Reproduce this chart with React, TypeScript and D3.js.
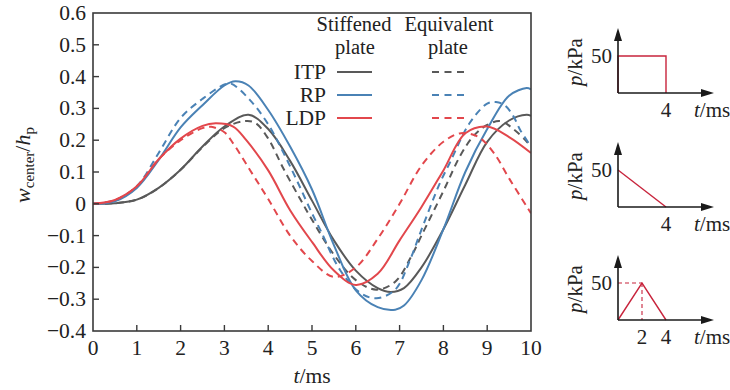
import * as d3 from "d3";

// main chart: centre deflection w_center/h_p against time t (ms)
const tTicks = [0, 1, 2, 3, 4, 5, 6, 7, 8, 9, 10];
const wTicks = [-0.4, -0.3, -0.2, -0.1, 0, 0.1, 0.2, 0.3, 0.4, 0.5, 0.6];

const itpStiffened = [
  [0, 0], [0.5, 0.002], [1, 0.013], [1.5, 0.05], [2, 0.107], [2.5, 0.18], [3, 0.243],
  [3.55, 0.28], [4, 0.235], [4.5, 0.135], [5, 0.01], [5.5, -0.115], [6, -0.21],
  [6.5, -0.265], [6.8, -0.277], [7.1, -0.265], [7.5, -0.2], [8, -0.08], [8.5, 0.06],
  [9, 0.195], [9.5, 0.262], [9.9, 0.28], [10, 0.277],
];
const itpEquivalent = [
  [0, 0], [0.5, 0.002], [1, 0.013], [1.5, 0.05], [2, 0.107], [2.5, 0.178], [3, 0.238],
  [3.45, 0.26], [3.7, 0.255], [4, 0.205], [4.35, 0.11], [4.73, 0.015], [5, -0.05],
  [5.5, -0.16], [6, -0.24], [6.47, -0.27], [6.9, -0.245], [7.25, -0.17], [7.5, -0.1],
  [8, 0.04], [8.4, 0.155], [8.7, 0.215], [9, 0.248], [9.3, 0.26], [9.6, 0.235],
  [9.9, 0.196], [10, 0.18],
];
const rpStiffened = [
  [0, 0], [0.5, 0.008], [1, 0.05], [1.5, 0.138], [2, 0.24], [2.5, 0.31], [3, 0.372],
  [3.25, 0.385], [3.55, 0.372], [4, 0.295], [4.5, 0.18], [5, 0.045], [5.5, -0.13],
  [6, -0.272], [6.5, -0.325], [6.9, -0.333], [7.1, -0.32], [7.5, -0.24], [8, -0.08],
  [8.5, 0.1], [9, 0.235], [9.5, 0.34], [9.9, 0.364], [10, 0.36],
];
const rpEquivalent = [
  [0, 0], [0.5, 0.01], [1, 0.055], [1.5, 0.16], [2, 0.27], [2.5, 0.33], [3, 0.375],
  [3.15, 0.378], [3.58, 0.327], [4, 0.25], [4.35, 0.16], [4.7, 0.06], [5, -0.03],
  [5.2, -0.085], [5.64, -0.208], [6.1, -0.28], [6.47, -0.297], [6.9, -0.27],
  [7.24, -0.176], [7.47, -0.092], [7.92, 0.065], [8.15, 0.13], [8.6, 0.254], [9, 0.315],
  [9.2, 0.32], [9.4, 0.31], [9.6, 0.275], [9.75, 0.233], [10, 0.18],
];
const ldpStiffened = [
  [0, 0], [0.5, 0.012], [1, 0.055], [1.5, 0.14], [2, 0.205], [2.5, 0.245], [2.8, 0.253],
  [3.2, 0.243], [3.5, 0.2], [4, 0.105], [4.5, -0.02], [5, -0.12], [5.5, -0.21],
  [6, -0.255], [6.5, -0.22], [7, -0.115], [7.5, -0.01], [8, 0.105], [8.5, 0.222],
  [9, 0.243], [9.5, 0.21], [10, 0.16],
];
const ldpEquivalent = [
  [0, 0], [0.5, 0.012], [1, 0.055], [1.5, 0.14], [2, 0.2], [2.5, 0.238], [2.7, 0.242],
  [3, 0.225], [3.2, 0.19], [3.58, 0.107], [4, 0.015], [4.5, -0.1], [5, -0.18],
  [5.5, -0.23], [6, -0.2], [6.5, -0.11], [7, 0.0], [7.5, 0.12], [8, 0.195], [8.4, 0.222],
  [8.8, 0.21], [9.15, 0.16], [9.5, 0.08], [9.9, -0.008], [10, -0.03],
];

const plateNames = ["ITP", "RP", "LDP"];
const plateColors = ["#595959", "#4a82b5", "#e2474c"];

// load pulses: [t (ms), p (kPa)]
const rectPulse = [[0, 0], [0, 50], [4, 50], [4, 0]];
const decayPulse = [[0, 50], [4, 0]];
const triPulse = [[0, 0], [2, 50], [4, 0]];

const AXIS = "#3a3a3a";
const PULSE = "#c8243c";
const FS = 21.5;

const Inset = ({ oy, pulse, tLabels, peak }) => {
  const tp = d3.scaleLinear().domain([0, 4]).range([618, 666]);
  const pp = d3.scaleLinear().domain([0, 50]).range([oy, oy - 37]);
  const line = d3.line().x((d) => tp(d[0])).y((d) => pp(d[1]));
  const ox = tp(0);
  return (
    <g>
      <path d={line(pulse)} fill="none" stroke={PULSE} strokeWidth={1.4} />
      {peak && (
        <g stroke={PULSE} strokeWidth={1.1} strokeDasharray="4,3">
          <line x1={ox} x2={tp(peak[0])} y1={pp(peak[1])} y2={pp(peak[1])} />
          <line x1={tp(peak[0])} x2={tp(peak[0])} y1={pp(peak[1])} y2={oy} />
        </g>
      )}
      <line x1={ox} x2={ox} y1={oy} y2={oy - 54} stroke="#1a1a1a" strokeWidth={1.6} />
      <line x1={ox} x2={703} y1={oy} y2={oy} stroke="#1a1a1a" strokeWidth={1.6} />
      <path d={`M${ox},${oy - 65}L${ox - 4},${oy - 52}L${ox + 4},${oy - 52}Z`} fill="#1a1a1a" />
      <path d={`M714,${oy}L701,${oy - 4}L701,${oy + 4}Z`} fill="#1a1a1a" />
      <text x={612} y={pp(50) + 7} textAnchor="end" fontSize={21}>50</text>
      {tLabels.map((t) => (
        <text key={t} x={tp(t)} y={oy + 24} textAnchor="middle" fontSize={21}>{t}</text>
      ))}
      <text x={694} y={oy + 24} fontSize={21}>
        <tspan fontStyle="italic">t</tspan>/ms
      </text>
      <text transform={`translate(582,${oy - 31}) rotate(-90)`} textAnchor="middle" fontSize={21}>
        <tspan fontStyle="italic">p</tspan>/kPa
      </text>
    </g>
  );
};

const App = () => {
  const x = d3.scaleLinear().domain([0, 10]).range([93, 531]);
  const y = d3.scaleLinear().domain([-0.4, 0.6]).range([331, 13]);
  const line = d3
    .line()
    .x((d) => x(d[0]))
    .y((d) => y(d[1]))
    .curve(d3.curveCatmullRom.alpha(0.5));

  const series = [
    { data: itpStiffened, color: plateColors[0], dashed: false },
    { data: itpEquivalent, color: plateColors[0], dashed: true },
    { data: rpStiffened, color: plateColors[1], dashed: false },
    { data: rpEquivalent, color: plateColors[1], dashed: true },
    { data: ldpStiffened, color: plateColors[2], dashed: false },
    { data: ldpEquivalent, color: plateColors[2], dashed: true },
  ];

  const [x0, x1] = x.range();
  const [y0, y1] = y.range();

  return (
    <svg
      width={730}
      height={390}
      style={{ position: "absolute", left: 0, top: 0, background: "#fff" }}
      fill="#222"
    >
      <style>{`text { font-family: "Liberation Serif", "Times New Roman", Times, serif; }`}</style>
      <defs>
        <clipPath id="plot">
          <rect x={x0} y={y1} width={x1 - x0} height={y0 - y1} />
        </clipPath>
      </defs>
      <g clipPath="url(#plot)">
        {series.map((s, i) => (
          <path
            key={i}
            d={line(s.data)}
            fill="none"
            stroke={s.color}
            strokeWidth={2}
            strokeDasharray={s.dashed ? "7,5" : null}
          />
        ))}
      </g>
      <rect x={x0} y={y1} width={x1 - x0} height={y0 - y1} fill="none" stroke={AXIS} strokeWidth={1.6} />
      {tTicks.map((t) => (
        <g key={`t${t}`}>
          {t > 0 && t < 10 && <line x1={x(t)} x2={x(t)} y1={y0} y2={y0 - 6} stroke={AXIS} strokeWidth={1.4} />}
          <text x={x(t)} y={355} textAnchor="middle" fontSize={FS}>{t}</text>
        </g>
      ))}
      {wTicks.map((w) => (
        <g key={`w${w}`}>
          {w > -0.4 && w < 0.6 && <line x1={x0} x2={x0 + 6} y1={y(w)} y2={y(w)} stroke={AXIS} strokeWidth={1.4} />}
          <text x={86} y={y(w) + 7} textAnchor="end" fontSize={FS}>
            {w === 0 ? "0" : w < 0 ? `\u2212${Math.abs(w).toFixed(1)}` : w.toFixed(1)}
          </text>
        </g>
      ))}
      <text x={312} y={383} textAnchor="middle" fontSize={FS}>
        <tspan fontStyle="italic">t</tspan>/ms
      </text>
      <text transform="translate(30,165) rotate(-90)" textAnchor="middle" fontSize={22}>
        <tspan fontStyle="italic">w</tspan>
        <tspan fontSize={15} dy={4}>center</tspan>
        <tspan dy={-4}>/</tspan>
        <tspan fontStyle="italic">h</tspan>
        <tspan fontSize={15} dy={4}>p</tspan>
      </text>

      {/* legend */}
      <text x={354} y={31} textAnchor="middle" fontSize={20.5}>Stiffened</text>
      <text x={355} y={54} textAnchor="middle" fontSize={20.5}>plate</text>
      <text x={449} y={31} textAnchor="middle" fontSize={20.5}>Equivalent</text>
      <text x={448} y={54} textAnchor="middle" fontSize={20.5}>plate</text>
      {plateNames.map((n, i) => {
        const ly = 72 + i * 23;
        return (
          <g key={n}>
            <text x={326} y={ly + 7} textAnchor="end" fontSize={FS}>{n}</text>
            <line x1={337} x2={372} y1={ly} y2={ly} stroke={plateColors[i]} strokeWidth={2} />
            <line x1={432} x2={468} y1={ly} y2={ly} stroke={plateColors[i]} strokeWidth={2} strokeDasharray="7,5.5" />
          </g>
        );
      })}

      <Inset oy={93} pulse={rectPulse} tLabels={[4]} />
      <Inset oy={207} pulse={decayPulse} tLabels={[4]} />
      <Inset oy={320} pulse={triPulse} tLabels={[2, 4]} peak={[2, 50]} />
    </svg>
  );
};

export default App;
